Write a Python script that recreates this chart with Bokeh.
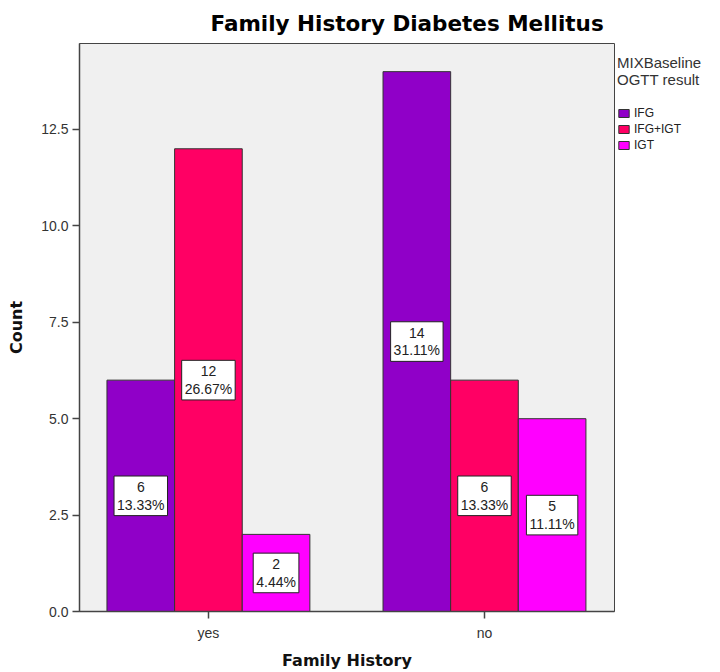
from bokeh.plotting import figure
from bokeh.models import ColumnDataSource, Range1d, FixedTicker, Legend, LegendItem
from bokeh.core.properties import value
from bokeh.embed import file_html
from bokeh.resources import INLINE

categories = ["yes", "no"]
groups = ["IFG", "IFG+IGT", "IGT"]
ifg = [6, 14]
ifg_igt = [12, 6]
igt = [2, 5]
colors = ["#9000C8", "#FF0064", "#FF00FF"]
y_ticks = [0.0, 2.5, 5.0, 7.5, 10.0, 12.5]
legend_title = "MIXBaseline\nOGTT result"

series = [ifg, ifg_igt, igt]
total = sum(sum(s) for s in series)

p = figure(frame_width=535, frame_height=568, output_backend="svg", toolbar_location=None,
           x_range=Range1d(0.033, 1.971), y_range=Range1d(0, 14.73),
           min_border_left=79, min_border_right=0, min_border_top=43, min_border_bottom=58)

p.background_fill_color = "#F0F0F0"
p.border_fill_color = "white"
p.outline_line_color = "#444444"
p.outline_line_width = 1
p.grid.visible = False

FONT = "Liberation Sans"
cat_pos = [i + 0.5 for i in range(len(categories))]
width = 0.245
offsets = [-0.245, 0.0, 0.245]

items = []
for s, g, c, off in zip(series, groups, colors, offsets):
    src = ColumnDataSource(dict(
        x=[cp + off for cp in cat_pos],
        top=s,
        mid=[v / 2 for v in s],
        lab=[f"{v}\n{v / total * 100:.2f}%" for v in s],
    ))
    r = p.vbar(x="x", top="top", width=width, source=src, fill_color=c,
               line_color="#333333", line_width=1)
    items.append(LegendItem(label=g, renderers=[r]))
    p.text(x="x", y="mid", text="lab", source=src, text_align="center",
           text_baseline="middle", text_font=value(FONT), text_font_size="14px",
           text_color="#222222", text_line_height=1.1,
           background_fill_color="white", border_line_color="#222222",
           border_line_width=1, padding=3)

# axes
p.xaxis.ticker = FixedTicker(ticks=cat_pos)
p.xaxis.major_label_overrides = {cp: c for cp, c in zip(cat_pos, categories)}
p.yaxis.ticker = FixedTicker(ticks=y_ticks)
p.yaxis.major_label_overrides = {t: f"{t:.1f}" for t in y_ticks}
for ax in (p.xaxis[0], p.yaxis[0]):
    ax.axis_line_color = "#444444"
    ax.axis_line_width = 1.5
    ax.major_tick_line_color = "#444444"
    ax.major_tick_line_width = 1.5
    ax.major_tick_in = 0
    ax.major_tick_out = 7
    ax.minor_tick_line_color = None
    ax.major_label_text_font = FONT
    ax.major_label_text_font_size = "14px"
    ax.major_label_text_color = "#333333"
    ax.axis_label_text_font = "DejaVu Sans"
    ax.axis_label_text_font_style = "bold"
    ax.axis_label_text_font_size = "16px"
    ax.axis_label_text_color = "#111111"
p.xaxis.axis_label = "Family History"
p.yaxis.axis_label = "Count"
p.xaxis.major_label_standoff = 6
p.yaxis.major_label_standoff = 4
p.xaxis.axis_label_standoff = 7
p.yaxis.axis_label_standoff = 12

p.title.text = "Family History Diabetes Mellitus"
p.title.text_font = "DejaVu Sans"
p.title.text_font_size = "21.5px"
p.title.text_font_style = "bold"
p.title.text_color = "#000000"
p.title.align = "left"
p.title.offset = 131
p.title.standoff = 15

legend = Legend(items=items, location=(3, 459), title=legend_title,
                title_text_font=FONT, title_text_font_size="15px",
                title_text_font_style="normal", title_text_color="#333333",
                title_text_line_height=1.0,
                label_text_font=FONT, label_text_font_size="12px",
                label_text_color="#222222", glyph_width=13, glyph_height=10,
                label_height=11, spacing=2, padding=7, margin=0,
                border_line_color=None, background_fill_alpha=0,
                title_standoff=18, label_standoff=4)
p.add_layout(legend, "right")

open("out.html", "w").write(file_html(p, INLINE))
